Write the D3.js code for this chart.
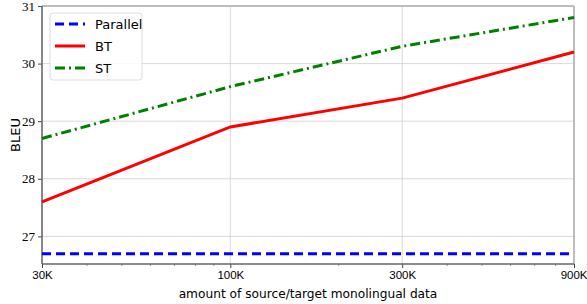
<!DOCTYPE html>
<html>
<head>
<meta charset="utf-8">
<script src="https://cdn.jsdelivr.net/npm/d3@7"></script>
<style>
  body { margin: 0; background: #fff; }
  svg { display: block; }
</style>
</head>
<body>
<svg id="chart" width="587" height="304"></svg>
<script>
// data
const amounts = [30000, 100000, 300000, 900000];
const tickLabels = ["30K", "100K", "300K", "900K"];
const parallel = [26.7, 26.7, 26.7, 26.7];
const bt = [27.6, 28.9, 29.4, 30.2];
const st = [28.7, 29.6, 30.3, 30.8];
const yTicks = [27, 28, 29, 30, 31];

const series = [
  { name: "Parallel", values: parallel, color: "#0000ff", dash: "9,5" },
  { name: "BT", values: bt, color: "#ff0000", dash: null },
  { name: "ST", values: st, color: "#008000", dash: "10,4,2,4" }
];

const svg = d3.select("#chart");
const margin = { left: 42, right: 13, top: 6, bottom: 40 };
const W = 587, H = 304;

const x = d3.scaleLog().domain([30000, 900000]).range([margin.left, W - margin.right]);
const y = d3.scaleLinear().domain([26.52, 31]).range([H - margin.bottom, margin.top]);

// grid
svg.append("g").selectAll("line").data(amounts).join("line")
  .attr("x1", d => x(d)).attr("x2", d => x(d))
  .attr("y1", margin.top).attr("y2", H - margin.bottom)
  .attr("stroke", "#cfcfcf").attr("stroke-width", 0.8);
svg.append("g").selectAll("line").data(yTicks).join("line")
  .attr("x1", margin.left).attr("x2", W - margin.right)
  .attr("y1", d => y(d)).attr("y2", d => y(d))
  .attr("stroke", "#cfcfcf").attr("stroke-width", 0.8);

// minor ticks on x
const minor = [];
[10000, 100000].forEach(dec => {
  for (let k = 1; k < 10; k++) {
    const v = k * dec;
    if (v > 30000 && v < 900000 && amounts.indexOf(v) < 0) minor.push(v);
  }
});

// axes
const xAxis = d3.axisBottom(x).tickValues(amounts)
  .tickFormat((d, i) => tickLabels[i]).tickSize(4).tickPadding(3);
const gx = svg.append("g").attr("transform", `translate(0,${H - margin.bottom})`).call(xAxis);
gx.select(".domain").remove();
gx.selectAll(".tick line").attr("stroke", "#444");
gx.selectAll("text").attr("font-family", "Liberation Sans, sans-serif").attr("font-size", 11.5).attr("fill", "#000");
gx.selectAll("text").filter((d, i) => i === amounts.length - 1).attr("text-anchor", "end").attr("dx", 13);
svg.append("g").selectAll("line").data(minor).join("line")
  .attr("x1", d => x(d)).attr("x2", d => x(d))
  .attr("y1", H - margin.bottom).attr("y2", H - margin.bottom + 2)
  .attr("stroke", "#444").attr("stroke-width", 0.6);

const yAxis = d3.axisLeft(y).tickValues(yTicks).tickFormat(d3.format("d")).tickSize(4).tickPadding(3);
const gy = svg.append("g").attr("transform", `translate(${margin.left},0)`).call(yAxis);
gy.select(".domain").remove();
gy.selectAll(".tick line").attr("stroke", "#444");
gy.selectAll("text").attr("font-family", "Liberation Serif, serif").attr("font-size", 13).attr("fill", "#000");

// spines
const x0 = margin.left, x1 = W - margin.right, y0 = margin.top, y1 = H - margin.bottom;
svg.append("line").attr("x1", x0).attr("x2", x1).attr("y1", y0).attr("y2", y0).attr("stroke", "#bdbdbd").attr("stroke-width", 2);
svg.append("line").attr("x1", x1).attr("x2", x1).attr("y1", y0).attr("y2", y1).attr("stroke", "#bdbdbd").attr("stroke-width", 2);
svg.append("line").attr("x1", x0).attr("x2", x1).attr("y1", y1).attr("y2", y1).attr("stroke", "#666").attr("stroke-width", 1.5);
svg.append("line").attr("x1", x0).attr("x2", x0).attr("y1", y0).attr("y2", y1).attr("stroke", "#666").attr("stroke-width", 1.5);

// lines
const line = d3.line().x((d, i) => x(amounts[i])).y(d => y(d));
svg.append("g").selectAll("path").data(series).join("path")
  .attr("d", d => line(d.values))
  .attr("fill", "none")
  .attr("stroke", d => d.color)
  .attr("stroke-width", 3)
  .attr("stroke-dasharray", d => d.dash);

// axis labels
svg.append("text").attr("x", (x0 + x1) / 2).attr("y", 298)
  .attr("text-anchor", "middle").attr("font-family", "DejaVu Sans, sans-serif").attr("font-size", 12.2)
  .text("amount of source/target monolingual data");
svg.append("text").attr("transform", `translate(20,${(y0 + y1) / 2}) rotate(-90)`)
  .attr("text-anchor", "middle").attr("font-family", "DejaVu Sans, sans-serif").attr("font-size", 13)
  .text("BLEU");

// legend
const lg = svg.append("g").attr("transform", "translate(50,13)");
lg.append("rect").attr("width", 92).attr("height", 67).attr("rx", 3)
  .attr("fill", "#fff").attr("fill-opacity", 0.85).attr("stroke", "#ddd");
const items = lg.selectAll("g.item").data(series).join("g").attr("class", "item")
  .attr("transform", (d, i) => `translate(5,${11 + i * 22})`);
items.append("line").attr("x1", 0).attr("x2", 30)
  .attr("stroke", d => d.color).attr("stroke-width", 3).attr("stroke-dasharray", d => d.dash);
items.append("text").attr("x", 40).attr("dy", "0.35em")
  .attr("font-family", "DejaVu Sans, sans-serif").attr("font-size", 13).text(d => d.name);
</script>
</body>
</html>
